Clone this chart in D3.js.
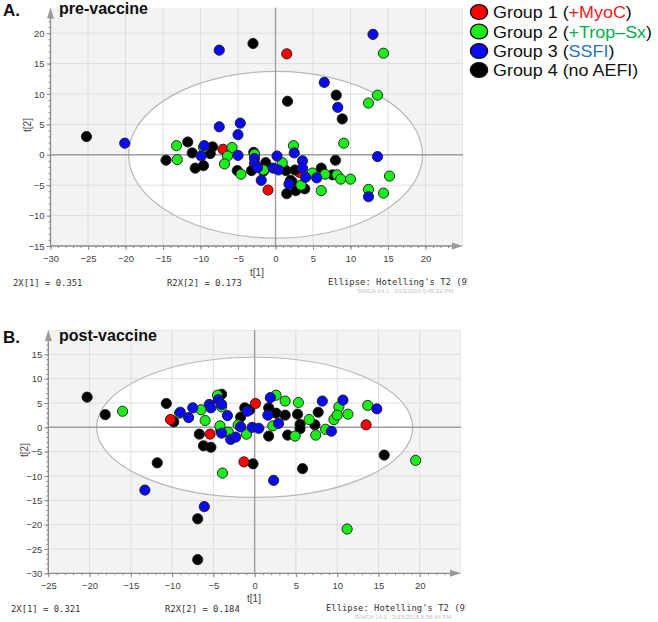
<!DOCTYPE html>
<html><head><meta charset="utf-8">
<script src="https://cdn.jsdelivr.net/npm/d3@7"></script>
<style>body{margin:0;background:#fff}svg{display:block}</style>
</head><body>
<svg id="c" width="658" height="622"></svg>
<script>
// ---------- DATA (t[1], t[2]) ----------
const preMyoC = [[1.5,16.6],[-7.0,0.9],[-1.0,-5.8],[3.2,-2.9]];
const preTrop = [[14.4,16.7],[13.6,9.8],[12.4,8.5],[9.1,1.9],[2.4,1.5],[-13.2,1.5],[-13.1,-0.8],[-9.6,1.2],[-5.8,1.2],[-6.4,-0.2],[-6.8,-1.5],[-4.6,-3.2],[-2.8,0.1],[0.9,-1.3],[3.4,-5.0],[4.9,-3.0],[6.6,-3.2],[8.2,-3.3],[8.7,-4.0],[10.0,-4.0],[6.1,-5.9],[12.4,-5.7],[14.4,-6.3],[15.2,-3.5],[-1.6,-2.5]];
const preSSFI = [[13.0,19.8],[-7.5,17.2],[6.5,11.9],[8.3,7.8],[-7.5,4.6],[-4.7,5.2],[-5.0,3.3],[-20.1,1.9],[-9.5,1.5],[-9.9,-0.2],[-5.0,-0.1],[-2.8,-0.6],[0.2,-0.2],[2.5,0.3],[13.6,-0.3],[-2.8,-1.4],[-2.4,-2.1],[-1.9,-4.2],[-0.3,-2.2],[0.4,-2.5],[3.6,-1.0],[3.6,-2.2],[4.0,-3.7],[5.5,-3.8],[1.8,-4.8],[12.4,-6.9]];
const preNoAEFI = [[-3.0,18.3],[1.6,8.8],[8.1,9.8],[8.9,5.9],[-25.2,3.0],[-11.7,2.1],[-11.1,0.3],[-14.6,-0.9],[-10.7,-2.2],[-9.6,-1.8],[-8.4,1.3],[-8.7,0.2],[-5.1,-2.6],[-2.9,0.4],[-3.2,-2.6],[-1.3,-1.3],[-1.6,-2.7],[1.4,-2.6],[2.6,-2.5],[2.2,-4.4],[1.5,-6.4],[2.7,-5.9],[3.9,-5.6],[6.1,-2.2],[8.0,-0.9],[7.6,-3.3],[2.0,-4.2]];

const postMyoC = [[0.1,4.9],[-10.2,1.6],[-5.4,-1.4],[-1.3,-7.1],[13.5,0.5]];
const postTrop = [[-16.0,3.3],[-9.1,2.9],[-6.5,3.6],[-6.0,1.4],[-4.5,6.6],[-4.0,4.2],[-4.2,0.3],[-3.2,-1.0],[-3.9,-9.4],[-2.0,0.5],[-1.0,-1.4],[2.6,6.6],[3.7,5.4],[2.2,0.3],[5.3,5.1],[4.9,-1.8],[6.6,1.6],[7.4,-1.6],[8.6,-0.4],[9.6,1.6],[10.2,4.2],[10.0,2.5],[11.3,2.7],[13.7,4.5],[19.5,-6.8],[11.2,-20.9]];
const postSSFI = [[-13.3,-12.9],[-6.1,-16.3],[2.3,-10.9],[-9.0,3.1],[-8.0,2.0],[-7.5,4.0],[-5.5,4.7],[-5.3,4.0],[-4.4,5.7],[-4.0,4.7],[-3.3,2.4],[-4.0,-1.2],[-2.9,-2.5],[-2.3,-2.0],[-1.7,0.1],[-0.9,3.3],[-0.3,0.0],[0.5,-0.2],[1.9,6.1],[1.6,2.5],[2.9,0.8],[8.2,5.4],[10.7,5.6],[9.3,-0.8],[14.8,3.8]];
const postNoAEFI = [[-20.3,6.2],[-18.1,2.6],[-10.7,4.9],[-9.8,1.1],[-11.8,-7.3],[-6.7,-1.4],[-6.2,-3.8],[-5.3,-4.1],[-4.0,6.8],[-4.1,-0.6],[-6.9,-18.8],[-6.9,-27.2],[-1.7,2.1],[-1.2,4.0],[-0.6,3.6],[-0.2,-7.5],[1.7,4.0],[1.7,-1.8],[2.6,2.9],[3.7,2.5],[4.0,-1.6],[5.2,2.7],[5.5,0.6],[5.5,-0.3],[5.8,-8.5],[7.3,0.5],[7.7,3.1],[15.7,-5.7]];

const preXTicks = [-30,-25,-20,-15,-10,-5,0,5,10,15,20];
const preYTicks = [-15,-10,-5,0,5,10,15,20];
const postXTicks = [-25,-20,-15,-10,-5,0,5,10,15,20];
const postYTicks = [-30,-25,-20,-15,-10,-5,0,5,10,15];

const groupNames = ["Group 1 (", "Group 2 (", "Group 3 (", "Group 4 (no AEFI)"];
const groupTags = ["+MyoC", "+Trop\u2013Sx", "SSFI", ""];

// ---------- STYLE ----------
const fills = ["#ff0000", "#1aef1a", "#0a0af0", "#000000"];
const tagColors = ["#ee1c25", "#00b050", "#2e75b6", "#000"];
const svg = d3.select("#c");
const defs = svg.append("defs");

function panel(o) {
  const g = svg.append("g");
  const x = d3.scaleLinear().domain(o.xd).range(o.xr);
  const y = d3.scaleLinear().domain(o.yd).range(o.yr);
  const [x0, x1] = o.xr, [y0, y1] = o.yr; // y0 bottom, y1 top
  const cid = "clip" + o.id;
  defs.append("clipPath").attr("id", cid).append("rect")
    .attr("x", x0).attr("y", y1).attr("width", x1 - x0).attr("height", y0 - y1);
  const plot = g.append("g").attr("clip-path", `url(#${cid})`);
  plot.append("rect").attr("x", x0).attr("y", y1).attr("width", x1 - x0).attr("height", y0 - y1).attr("fill", "#f3f3f3");
  const ell = {cx: x(0), cy: y(0), rx: x(o.erx) - x(0), ry: y(0) - y(o.ery)};
  plot.append("ellipse").attr("cx", ell.cx).attr("cy", ell.cy).attr("rx", ell.rx).attr("ry", ell.ry).attr("fill", "#fff");
  // grid
  const gx = d3.range(Math.ceil(o.xd[0] / 5) * 5, o.xd[1] + 0.01, 5);
  const gy = d3.range(Math.ceil(o.yd[0] / 5) * 5, o.yd[1] + 0.01, 5);
  plot.selectAll(".gx").data(gx).join("line").attr("x1", d => x(d)).attr("x2", d => x(d)).attr("y1", y1).attr("y2", y0).attr("stroke", "#dedede").attr("stroke-width", 1);
  plot.selectAll(".gy").data(gy).join("line").attr("y1", d => y(d)).attr("y2", d => y(d)).attr("x1", x0).attr("x2", x1).attr("stroke", "#dedede").attr("stroke-width", 1);
  plot.append("ellipse").attr("cx", ell.cx).attr("cy", ell.cy).attr("rx", ell.rx).attr("ry", ell.ry).attr("fill", "none").attr("stroke", "#b8b8b8").attr("stroke-width", 1.2);
  plot.append("line").attr("x1", x(0)).attr("x2", x(0)).attr("y1", y1).attr("y2", y0).attr("stroke", "#a0a0a0").attr("stroke-width", 1.4);
  plot.append("line").attr("y1", y(0)).attr("y2", y(0)).attr("x1", x0).attr("x2", x1).attr("stroke", "#a0a0a0").attr("stroke-width", 1.4);

  // axes
  const axCol = "#8a8a8a";
  const minorX = d3.range(Math.ceil(o.xd[0]), o.xd[1] - 1, 1);
  const minorY = d3.range(Math.ceil(o.yd[0]), o.yd[1] - 1, 1);
  g.append("g").attr("transform", `translate(0,${y0})`).call(d3.axisBottom(x).tickValues(minorX).tickSize(2).tickFormat("")).call(s => { s.select(".domain").remove(); s.selectAll("line").attr("stroke", axCol); });
  g.append("g").attr("transform", `translate(${x0},0)`).call(d3.axisLeft(y).tickValues(minorY).tickSize(2).tickFormat("")).call(s => { s.select(".domain").remove(); s.selectAll("line").attr("stroke", axCol); });
  const ax = g.append("g").attr("transform", `translate(0,${y0})`).call(d3.axisBottom(x).tickValues(o.xt).tickSize(4).tickPadding(5).tickSizeOuter(0));
  const ay = g.append("g").attr("transform", `translate(${x0},0)`).call(d3.axisLeft(y).tickValues(o.yt).tickSize(4).tickPadding(2).tickSizeOuter(0));
  [ax, ay].forEach(a => {
    a.select(".domain").attr("stroke", axCol).attr("stroke-width", 1.3);
    a.selectAll(".tick line").attr("stroke", axCol);
    a.selectAll("text").attr("fill", "#444").attr("font-family", "Liberation Sans, Arial, sans-serif").attr("font-size", 9.5);
  });
  ax.select(".domain").attr("d", `M${x0},0H${x1 - 8}`);
  ay.select(".domain").attr("d", `M0,${y0}V${y1 + 8}`);
  g.append("path").attr("d", `M${x1 - 11},${y0 - 3.5}L${x1},${y0}L${x1 - 11},${y0 + 3.5}Z`).attr("fill", "#9a9a9a");
  g.append("path").attr("d", `M${x0 - 3.5},${y1 + 11}L${x0},${y1}L${x0 + 3.5},${y1 + 11}Z`).attr("fill", "#9a9a9a");

  // points
  o.order.forEach(gi => {
    plot.append("g").selectAll("circle").data(o.series[gi]).join("circle")
      .attr("cx", d => x(d[0])).attr("cy", d => y(d[1])).attr("r", 5.1)
      .attr("fill", fills[gi]).attr("stroke", "#1a1a1a").attr("stroke-width", 0.9);
  });

  // labels
  const mono = "DejaVu Sans Mono, monospace";
  g.append("text").attr("x", o.tx).attr("y", o.tly).attr("text-anchor", "middle").attr("font-family", "Liberation Sans, Arial, sans-serif").attr("font-size", 10).attr("fill", "#444").text("t[1]");
  g.append("text").attr("transform", `translate(${o.t2x},${o.t2y}) rotate(-90)`).attr("text-anchor", "middle").attr("font-family", "Liberation Sans, Arial, sans-serif").attr("font-size", 10).attr("fill", "#444").text("t[2]");
  const fcid = "fclip" + o.id;
  defs.append("clipPath").attr("id", fcid).append("rect").attr("x", 0).attr("y", o.fy - 20).attr("width", x1 + 5).attr("height", 40);
  const foot = g.append("g").attr("clip-path", `url(#${fcid})`);
  foot.append("text").attr("x", o.f1x).attr("y", o.fy).attr("font-family", mono).attr("font-size", 8.9).attr("fill", "#333").text(o.r2x1);
  foot.append("text").attr("x", o.f2x).attr("y", o.fy).attr("font-family", mono).attr("font-size", 8.9).attr("fill", "#333").text(o.r2x2);
  foot.append("text").attr("x", o.f3x).attr("y", o.fy - 1).attr("font-family", mono).attr("font-size", 8.9).attr("fill", "#333").text("Ellipse: Hotelling's T2 (95%)");
  foot.append("text").attr("x", o.f3x + 29).attr("y", o.fy + 7).attr("font-family", "Liberation Sans, Arial, sans-serif").attr("font-size", 6).attr("fill", "#c4c4c4").text(o.stamp);

  // titles
  g.append("text").attr("x", 3).attr("y", o.ty + 2).attr("font-family", "Liberation Sans, Arial, sans-serif").attr("font-weight", "bold").attr("font-size", 17).attr("fill", "#111").text(o.letter);
  g.append("text").attr("x", 59).attr("y", o.ty).attr("font-family", "Liberation Sans, Arial, sans-serif").attr("font-weight", "bold").attr("font-size", 16).attr("fill", "#111").text(o.title);
}

panel({id: "A", xd: [-30, 25], xr: [50.5, 463], yd: [-15, 24.2], yr: [246, 7.6],
  erx: 19.6, ery: 13.7, xt: preXTicks, yt: preYTicks, order: [0, 3, 1, 2],
  series: [preMyoC, preTrop, preSSFI, preNoAEFI],
  tx: 257, tly: 276, t2x: 31, t2y: 125, fy: 286, f1x: 13, f2x: 167, f3x: 328,
  r2x1: "2X[1] = 0.351", r2x2: "R2X[2] = 0.173", stamp: "SIMCA 14.1 - 2/15/2016 5:45:22 PM",
  letter: "A.", title: "pre-vaccine", ty: 14});

panel({id: "B", xd: [-25, 25], xr: [48.3, 461], yd: [-30, 20], yr: [573.3, 330],
  erx: 19.15, ery: 14.4, xt: postXTicks, yt: postYTicks, order: [3, 1, 2, 0],
  series: [postMyoC, postTrop, postSSFI, postNoAEFI],
  tx: 254, tly: 602, t2x: 28, t2y: 450, fy: 612, f1x: 11, f2x: 165, f3x: 326,
  r2x1: "2X[1] = 0.321", r2x2: "R2X[2] = 0.184", stamp: "SIMCA 14.1 - 2/15/2016 5:58:44 PM",
  letter: "B.", title: "post-vaccine", ty: 341});

// legend
const leg = svg.append("g");
const legY = [12, 31.5, 51, 70];
groupNames.forEach((nm, i) => {
  leg.append("ellipse").attr("cx", 479).attr("cy", legY[i]).attr("rx", 8.6).attr("ry", 7.4)
    .attr("fill", fills[i]).attr("stroke", "#111").attr("stroke-width", 1.4);
  const t = leg.append("text").attr("transform", `translate(493,${legY[i] + 6}) scale(1.12,1)`)
    .attr("font-family", "Liberation Sans, Arial, sans-serif").attr("font-size", 16).attr("fill", "#111");
  t.append("tspan").text(nm);
  if (groupTags[i]) {
    t.append("tspan").attr("fill", tagColors[i]).text(groupTags[i]);
    t.append("tspan").text(")");
  }
});
</script>
</body></html>
